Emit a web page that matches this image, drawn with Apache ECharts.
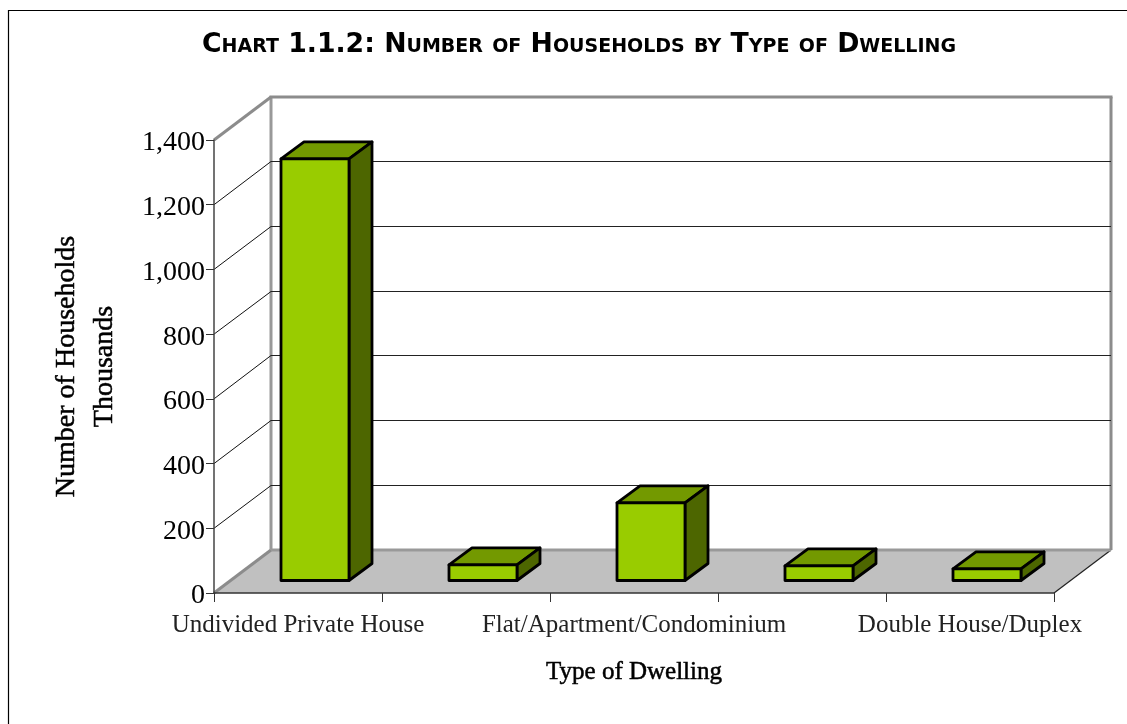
<!DOCTYPE html>
<html><head><meta charset="utf-8">
<style>html,body{margin:0;padding:0;background:#fff}#c{width:1127px;height:724px}</style>
<script src="https://cdn.jsdelivr.net/npm/echarts@6/dist/echarts.min.js"></script>
</head><body><div id="c"></div>
<script>
const chartTitle = 'Chart 1.1.2: Number of Households by Type of Dwelling';
const categories = ['Undivided Private House', '', 'Flat/Apartment/Condominium', '', 'Double House/Duplex'];
const households = [1303, 48, 240, 45, 36];
const valueTicks = [0, 200, 400, 600, 800, 1000, 1200, 1400];

const DEPTH_X = 57, DEPTH_Y = 43;     // wall/floor projection
const BAR_IN_X = 17, BAR_IN_Y = 12.5, BAR_W = 68, BAR_DX = 23, BAR_DY = 17;
const GREY = '#8c8c8c', SERIF = '"Liberation Serif", serif';

function poly(pts, fill, z2) {
  return { type: 'polygon', shape: { points: pts }, z2: z2 || 0,
    style: { fill: fill, stroke: '#000', lineWidth: 2.8, lineJoin: 'round' } };
}
function line(a, b, stroke, w, z2) {
  return { type: 'line', z2: z2 || 0, shape: { x1: a[0], y1: a[1], x2: b[0], y2: b[1] },
    style: { stroke: stroke, lineWidth: w } };
}
function renderWall(params, api) {
  const v = api.value(1);
  const band = api.size([1, 0])[0];
  const n = categories.length;
  const p0 = api.coord([0, v]), pN = api.coord([n - 1, v]);
  const L = [p0[0] - band / 2, p0[1]], R = [pN[0] + band / 2, pN[1]];
  const bL = [L[0] + DEPTH_X, L[1] - DEPTH_Y], bR = [R[0] + DEPTH_X, R[1] - DEPTH_Y];
  const top = api.coord([0, valueTicks[valueTicks.length - 1]])[1] - DEPTH_Y;
  const kids = [];
  if (v === 0) {
    kids.push({ type: 'polygon', shape: { points: [L, bL, bR, R] }, style: { fill: '#c0c0c0' } });
    kids.push(line(L, bL, GREY, 3));
    kids.push(line(R, bR, '#222', 1.2));
    kids.push(line(bL, bR, '#999', 3));
    kids.push(line(bL, [bL[0], top], '#999', 3));
    kids.push(line(bR, [bR[0], top], GREY, 3));
  } else if (v === valueTicks[valueTicks.length - 1]) {
    kids.push(line(L, bL, GREY, 3, 2));
    kids.push(line([bL[0] - 1.5, bL[1]], [bR[0] + 1.5, bR[1]], GREY, 3, 2));
  } else {
    const yb = Math.floor(bL[1]) + 0.5;
    kids.push(line(L, [bL[0], yb], '#111', 1));
    kids.push(line([bL[0], yb], [bR[0], yb], '#222', 1));
  }
  return { type: 'group', children: kids };
}
function renderBar(params, api) {
  const i = api.value(0), v = api.value(1);
  const c = api.coord([i, v]), b = api.coord([i, 0]);
  const l = c[0] + BAR_IN_X - BAR_W / 2, r = l + BAR_W;
  const t = c[1] - BAR_IN_Y, y0 = b[1] - BAR_IN_Y;
  return { type: 'group', children: [
    poly([[l, t], [l + BAR_DX, t - BAR_DY], [r + BAR_DX, t - BAR_DY], [r, t]], '#739900'),
    poly([[r, t], [r + BAR_DX, t - BAR_DY], [r + BAR_DX, y0 - BAR_DY], [r, y0]], '#4d6600'),
    poly([[l, t], [r, t], [r, y0], [l, y0]], '#99cc00')
  ] };
}

const chart = echarts.init(document.getElementById('c'), null, { renderer: 'canvas' });
chart.setOption({
  animation: false,
  backgroundColor: '#fff',
  title: { text: chartTitle, left: 574, top: 27, textAlign: 'center',
    textStyle: { fontFamily: '"DejaVu Sans", sans-serif', fontStyle: 'small-caps', fontWeight: 'bold', fontSize: 26.7, color: '#000' } },
  graphic: [
    { type: 'line', shape: { x1: 8, y1: 10.5, x2: 1127, y2: 10.5 }, style: { stroke: '#000', lineWidth: 1.2 } },
    { type: 'line', shape: { x1: 8.5, y1: 10, x2: 8.5, y2: 724 }, style: { stroke: '#000', lineWidth: 1.2 } }
  ],
  grid: { left: 214, top: 140, width: 840, height: 453 },
  xAxis: { type: 'category', data: categories, z: 4,
    name: 'Type of Dwelling', nameLocation: 'middle', nameGap: 67,
    nameTextStyle: { fontFamily: SERIF, fontSize: 25, color: '#000', textBorderColor: '#000', textBorderWidth: 0.5 },
    axisLine: { lineStyle: { color: '#333', width: 1.5 } },
    axisTick: { show: true, length: 9, interval: 0, lineStyle: { color: '#333', width: 1 } },
    axisLabel: { interval: 0, margin: 20, fontFamily: SERIF, fontSize: 25, color: '#222' } },
  yAxis: { type: 'value', min: 0, max: 1400, interval: 200, z: 4,
    name: 'Number of Households\nThousands', nameLocation: 'middle', nameGap: 90, nameRotate: 90,
    nameTextStyle: { fontFamily: SERIF, fontSize: 28, color: '#000', lineHeight: 38, textBorderColor: '#000', textBorderWidth: 0.5 },
    splitLine: { show: false },
    axisLine: { show: true, lineStyle: { color: '#444', width: 1.5 } },
    axisTick: { show: true, length: 8, lineStyle: { color: '#333', width: 1 } },
    axisLabel: { margin: 9, color: '#000',
      formatter: v => '{t|' + v.toLocaleString('en-US') + '}',
      rich: { t: { fontFamily: SERIF, fontSize: 28, color: '#000', padding: [6, 0, 0, 0] } } } },
  series: [
    { type: 'custom', name: 'walls', z: 1, silent: true, renderItem: renderWall,
      encode: { x: 0, y: 1 }, clip: false, data: valueTicks.map(v => [0, v]) },
    { type: 'custom', name: 'Households', z: 3, renderItem: renderBar,
      encode: { x: 0, y: 1 }, clip: false, data: households.map((v, i) => [i, v]) }
  ]
});
</script></body></html>
